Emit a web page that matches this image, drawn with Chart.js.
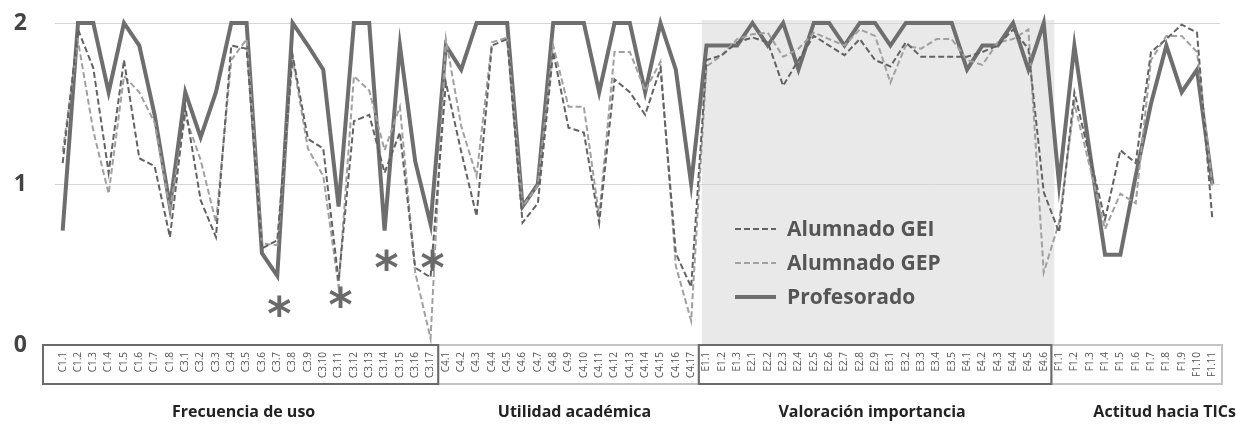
<!DOCTYPE html>
<html>
<head>
<meta charset="utf-8">
<script src="https://cdn.jsdelivr.net/npm/chart.js@4.4.0/dist/chart.umd.min.js"></script>
<style>
  html, body { margin: 0; padding: 0; background: #fff; }
  #wrap { width: 1236px; height: 428px; position: relative; }
</style>
</head>
<body>
<div id="wrap"><canvas id="chart"></canvas></div>
<script>
// categories (items of the questionnaire)
const categories = [
    'C1.1', 'C1.2', 'C1.3', 'C1.4', 'C1.5', 'C1.6', 'C1.7', 'C1.8',
    'C3.1', 'C3.2', 'C3.3', 'C3.4', 'C3.5', 'C3.6', 'C3.7', 'C3.8', 'C3.9', 'C3.10',
    'C3.11', 'C3.12', 'C3.13', 'C3.14', 'C3.15', 'C3.16', 'C3.17',
    'C4.1', 'C4.2', 'C4.3', 'C4.4', 'C4.5', 'C4.6', 'C4.7', 'C4.8', 'C4.9', 'C4.10',
    'C4.11', 'C4.12', 'C4.13', 'C4.14', 'C4.15', 'C4.16', 'C4.17',
    'E1.1', 'E1.2', 'E1.3',
    'E2.1', 'E2.2', 'E2.3', 'E2.4', 'E2.5', 'E2.6', 'E2.7', 'E2.8', 'E2.9',
    'E3.1', 'E3.2', 'E3.3', 'E3.4', 'E3.5',
    'E4.1', 'E4.2', 'E4.3', 'E4.4', 'E4.5', 'E4.6',
    'F1.1', 'F1.2', 'F1.3', 'F1.4', 'F1.5', 'F1.6', 'F1.7', 'F1.8', 'F1.9', 'F1.10', 'F1.11'
];

const alumnadoGEI = [
    1.13, 1.96, 1.72, 1.07, 1.77, 1.16, 1.11, 0.67,
    1.48, 0.90, 0.67, 1.86, 1.84, 0.60, 0.65, 1.80, 1.28, 1.22,
    0.40, 1.39, 1.43, 1.07, 1.32, 0.48, 0.42,
    1.63, 1.20, 0.80, 1.86, 1.90, 0.76, 0.88, 1.82, 1.35, 1.32,
    0.76, 1.65, 1.57, 1.43, 1.72, 0.57, 0.36,
    1.77, 1.80, 1.88,
    1.91, 1.88, 1.61, 1.77, 1.92, 1.86, 1.80, 1.90, 1.77,
    1.73, 1.88, 1.79, 1.79, 1.79,
    1.79, 1.82, 1.86, 1.96, 1.84, 0.95,
    0.70, 1.57, 1.17, 0.78, 1.21, 1.13, 1.82, 1.90, 1.99, 1.94, 0.78
];

const alumnadoGEP = [
    1.20, 1.89, 1.33, 0.94, 1.67, 1.57, 1.38, 0.84,
    1.42, 1.15, 0.76, 1.77, 1.90, 0.63, 0.62, 1.78, 1.22, 1.05,
    0.36, 1.67, 1.58, 1.21, 1.48, 0.45, 0.04,
    1.90, 1.36, 1.05, 1.88, 1.91, 0.86, 0.99, 1.86, 1.48, 1.48,
    0.80, 1.82, 1.82, 1.58, 1.76, 0.49, 0.15,
    1.73, 1.80, 1.90,
    1.93, 1.94, 1.79, 1.84, 1.94, 1.90, 1.86, 1.96, 1.92,
    1.63, 1.86, 1.84, 1.90, 1.90,
    1.77, 1.74, 1.88, 1.90, 1.96, 0.45,
    0.76, 1.50, 1.11, 0.72, 0.94, 0.88, 1.77, 1.92, 1.92, 1.82, 0.99
];

const profesorado = [
    0.71, 2.00, 2.00, 1.57, 2.00, 1.86, 1.43, 0.86,
    1.57, 1.29, 1.57, 2.00, 2.00, 0.57, 0.43, 2.00, 1.86, 1.71,
    0.86, 2.00, 2.00, 0.71, 1.86, 1.14, 0.75,
    1.86, 1.71, 2.00, 2.00, 2.00, 0.86, 1.00, 2.00, 2.00, 2.00,
    1.57, 2.00, 2.00, 1.57, 2.00, 1.71, 1.00,
    1.86, 1.86, 1.86,
    2.00, 1.86, 2.00, 1.71, 2.00, 2.00, 1.86, 2.00, 2.00,
    1.86, 2.00, 2.00, 2.00, 2.00,
    1.71, 1.86, 1.86, 2.00, 1.71, 2.00,
    1.00, 1.86, 1.20, 0.56, 0.56, 1.05, 1.50, 1.86, 1.57, 1.71, 1.00
];

const yTicks = [0, 1, 2];

// blocks of items shown under the axis
const groupNames = ['Frecuencia de uso', 'Utilidad académica', 'Valoración importancia', 'Actitud hacia TICs'];
const groupFirst = ['C1.1', 'C4.1', 'E1.1', 'F1.1'];
const groupLast = ['C3.17', 'C4.17', 'E4.6', 'F1.11'];

// significant differences (asterisks)
const sigItems = ['C3.7', 'C3.11', 'C3.14', 'C3.17'];
const sigLevels = [0.24, 0.30, 0.53, 0.53];

const FONT = "'Open Sans', 'DejaVu Sans', sans-serif";

const shadePlugin = {
    id: 'shade',
    beforeDraw(chart) {
        const { ctx, chartArea, scales: { x } } = chart;
        const half = x.width / categories.length / 2;
        const x0 = x.getPixelForValue(categories.indexOf('E1.1')) - half + 3;
        const x1 = x.getPixelForValue(categories.indexOf('E4.6')) + half + 3;
        ctx.save();
        ctx.fillStyle = '#e9e9e9';
        ctx.fillRect(x0, chartArea.top - 3, x1 - x0, chartArea.bottom - chartArea.top + 3);
        ctx.restore();
    }
};

const decoPlugin = {
    id: 'deco',
    afterDraw(chart) {
        const { ctx, chartArea, scales: { x, y } } = chart;
        const half = x.width / categories.length / 2;
        const top = chartArea.bottom;
        const boxH = 39;

        // boxes round the tick labels
        const boxColors = ['#6b6b6b', '#c4c4c4', '#6b6b6b', '#c4c4c4'];
        const boxEdges = groupFirst.map((g, i) => {
            let left = x.getPixelForValue(categories.indexOf(g)) - half;
            let right = x.getPixelForValue(categories.indexOf(groupLast[i])) + half;
            if (i === 0) left -= 12;
            if (i === groupFirst.length - 1) right += 2;
            return [left, right];
        });
        ctx.save();
        ctx.lineWidth = 2;
        // light boxes first so shared edges stay dark
        [1, 3, 0, 2].forEach(i => {
            const [left, right] = boxEdges[i];
            ctx.strokeStyle = boxColors[i];
            ctx.strokeRect(left, top, right - left, boxH);
        });

        // block names
        const nudge = [3, 6, -3, 28];
        ctx.fillStyle = '#222';
        ctx.font = 'bold 16px ' + FONT;
        ctx.textAlign = 'center';
        ctx.textBaseline = 'middle';
        groupNames.forEach((n, i) => {
            const c = (boxEdges[i][0] + boxEdges[i][1]) / 2;
            ctx.fillText(n, c + nudge[i], 412);
        });

        // asterisks
        ctx.fillStyle = '#6a6a6a';
        ctx.font = 'bold 46px DejaVu Sans';
        ctx.textAlign = 'center';
        ctx.textBaseline = 'alphabetic';
        const m = ctx.measureText('*');
        const mid = (m.actualBoundingBoxAscent - m.actualBoundingBoxDescent) / 2;
        sigItems.forEach((s, i) => {
            const px = x.getPixelForValue(categories.indexOf(s)) + 2;
            const py = y.getPixelForValue(sigLevels[i]);
            ctx.fillText('*', px, py + mid);
        });

        // legend
        const lx = 735, ly = 229, gap = 34;
        chart.data.datasets.forEach((ds, i) => {
            const yy = ly + i * gap;
            ctx.beginPath();
            ctx.strokeStyle = ds.borderColor;
            ctx.lineWidth = ds.borderWidth;
            ctx.setLineDash(ds.borderDash || []);
            ctx.moveTo(lx, yy);
            ctx.lineTo(lx + 41, yy);
            ctx.stroke();
            ctx.setLineDash([]);
            ctx.fillStyle = '#555';
            ctx.font = 'bold 21px ' + FONT;
            ctx.textAlign = 'left';
            ctx.textBaseline = 'middle';
            ctx.fillText(ds.label, lx + 52, yy + 1);
        });
        ctx.restore();
    }
};

new Chart(document.getElementById('chart'), {
    type: 'line',
    data: {
        labels: categories,
        datasets: [{
            label: 'Alumnado GEI',
            data: alumnadoGEI,
            borderColor: '#626262',
            borderWidth: 2,
            borderDash: [6, 3],
            pointRadius: 0,
            tension: 0,
            clip: false
        }, {
            label: 'Alumnado GEP',
            data: alumnadoGEP,
            borderColor: '#a0a0a0',
            borderWidth: 2,
            borderDash: [6, 3],
            pointRadius: 0,
            tension: 0,
            clip: false
        }, {
            label: 'Profesorado',
            data: profesorado,
            borderColor: '#6e6e6e',
            borderWidth: 4,
            pointRadius: 0,
            tension: 0,
            clip: false
        }]
    },
    options: {
        responsive: true,
        maintainAspectRatio: false,
        animation: false,
        devicePixelRatio: 1,
        layout: {
            padding: { top: 23, right: 16, left: 0, bottom: 0 }
        },
        plugins: {
            legend: { display: false },
            tooltip: { enabled: false }
        },
        scales: {
            x: {
                offset: true,
                grid: { display: false, drawTicks: false },
                border: { display: false },
                ticks: {
                    autoSkip: false,
                    maxRotation: 90,
                    minRotation: 90,
                    padding: 7,
                    color: '#555',
                    font: { family: FONT, size: 10 }
                },
                afterFit: function (scale) {
                    scale.height = 83;
                    scale.paddingLeft = 0;
                    scale.paddingRight = 0;
                }
            },
            y: {
                min: 0,
                max: 2,
                afterBuildTicks: function (scale) {
                    scale.ticks = yTicks.map(v => ({ value: v }));
                },
                grid: {
                    drawTicks: false,
                    color: function (c) {
                        return c.tick && c.tick.value === 0 ? 'rgba(0,0,0,0)' : '#d6d6d6';
                    }
                },
                border: { display: false },
                ticks: {
                    padding: 28,
                    color: '#444',
                    font: { family: FONT, size: 23, weight: 'bold' }
                },
                afterFit: function (scale) {
                    scale.width = 55;
                    scale.paddingTop = 0;
                    scale.paddingBottom = 0;
                }
            }
        }
    },
    plugins: [shadePlugin, decoPlugin]
});
</script>
</body>
</html>
